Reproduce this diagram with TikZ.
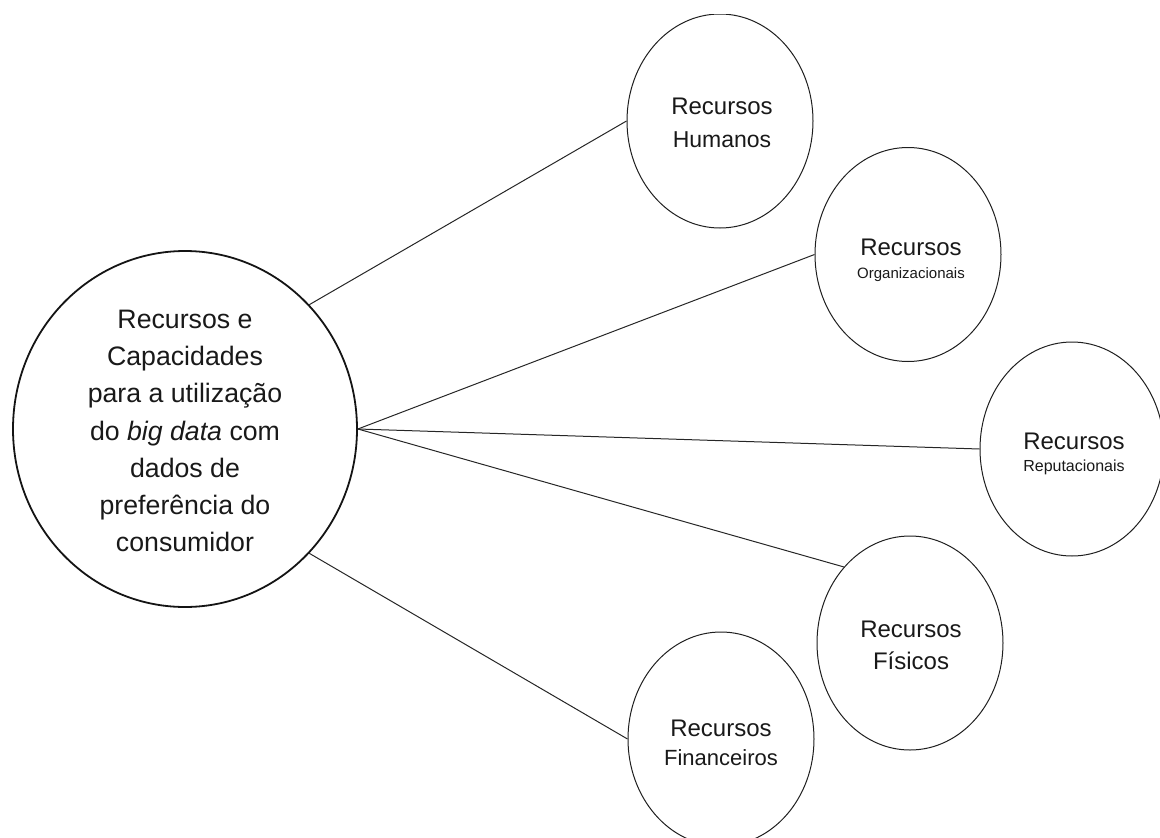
\documentclass[tikz,border=0pt]{standalone}
\usepackage{fontspec}
\setmainfont{Liberation Sans}
\usetikzlibrary{shapes.geometric}
\begin{document}
\begin{tikzpicture}[x=1pt,y=-1pt,
  bubble/.style={ellipse, draw=black!88, line width=1pt, inner sep=0pt,
    minimum width=186pt, minimum height=214pt},
  hub/.style={ellipse, draw=black!92, line width=1.8pt, inner sep=0pt,
    minimum width=344pt, minimum height=356pt},
  link/.style={draw=black!85, line width=1pt},
  word/.style={anchor=base, inner sep=0pt, text=black!90},
  big/.style={word, font=\fontsize{24}{28}\selectfont},
  small/.style={word, font=\fontsize{15.5}{18}\selectfont}
]
\useasboundingbox (0,0) rectangle (1160,838);

\begin{scope}
  \clip (0,14.5) rectangle (1160,838);
  % central resource bubble
  \node[hub] (core) at (185,429) {};
  % satellite bubbles
  \node[bubble] (hum) at (720,121) {};
  \node[bubble] (org) at (908,254.5) {};
  \node[bubble, minimum width=184pt] (rep) at (1072,449) {};
  \node[bubble] (fis) at (910,643) {};
  \node[bubble] (fin) at (721,739) {};
\end{scope}

% central text
\node[align=center, inner sep=0pt, text=black!90,
      font=\fontsize{26.7}{37.2}\selectfont] (coretext) at (185,431)
  {Recursos e\\Capacidades\\para a utilização\\do \textit{big data} com\\dados de\\preferência do\\consumidor};

% satellite labels
\node[big] (hum1) at (722,114) {Recursos};
\node[big, font=\fontsize{23}{28}\selectfont] (hum2) at (722,147) {Humanos};

\node[big] (org1) at (911,255) {Recursos};
\node[small, font=\fontsize{15}{18}\selectfont] (org2) at (911,278) {Organizacionais};

\node[big] (rep1) at (1074,449) {Recursos};
\node[small, font=\fontsize{16}{18}\selectfont] (rep2) at (1074,471) {Reputacionais};

\node[big] (fis1) at (911,637) {Recursos};
\node[big] (fis2) at (911,669) {Físicos};

\node[big] (fin1) at (721,736) {Recursos};
\node[big, font=\fontsize{22}{28}\selectfont] (fin2) at (721,765) {Financeiros};

% connectors
\draw[link] (core.45) -- (hum.west);
\draw[link] (core.east) -- (org.west);
\draw[link] (core.east) -- (rep.west);
\draw[link] (core.east) -- (fis.131);
\draw[link] (core.-45) -- (fin.west);
\end{tikzpicture}
\end{document}
